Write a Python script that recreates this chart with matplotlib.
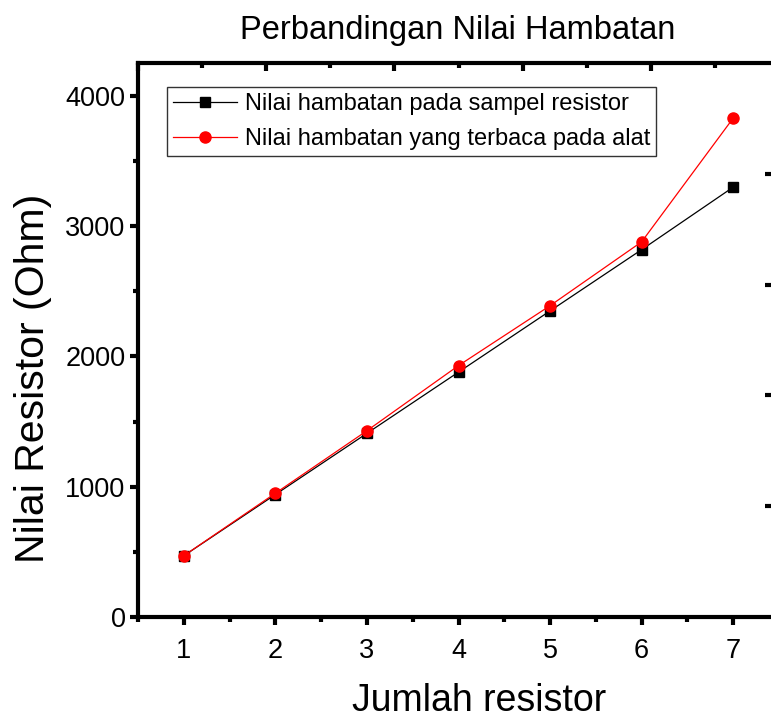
import matplotlib
matplotlib.use('Agg')
import matplotlib.pyplot as plt
from matplotlib.ticker import MultipleLocator

jumlah = [1, 2, 3, 4, 5, 6, 7]
hambatan_sampel = [470, 940, 1410, 1880, 2350, 2820, 3300]
hambatan_alat = [470, 950, 1430, 1930, 2390, 2880, 3830]

label_sampel = 'Nilai hambatan pada sampel resistor'
label_alat = 'Nilai hambatan yang terbaca pada alat'


def main():
    plt.rcParams['font.family'] = ['Liberation Sans', 'DejaVu Sans']

    fig = plt.figure(figsize=(7.71, 7.22), dpi=100)
    ax = fig.add_axes([138 / 771, 1 - 617 / 722, 641 / 771, 554 / 722])

    ax.plot(jumlah, hambatan_sampel, color='black', lw=0.9, marker='s',
            markersize=7, label=label_sampel, clip_on=False, zorder=3)
    ax.plot(jumlah, hambatan_alat, color='red', lw=0.9, marker='o',
            markersize=8, label=label_alat, clip_on=False, zorder=4)

    ax.set_xlim(0.5, 7.5)
    ax.set_ylim(0, 4253)
    ax.xaxis.set_major_locator(MultipleLocator(1))
    ax.xaxis.set_minor_locator(MultipleLocator(0.5))
    ax.yaxis.set_major_locator(MultipleLocator(1000))
    ax.yaxis.set_minor_locator(MultipleLocator(500))

    for s in ax.spines.values():
        s.set_linewidth(3)
    ax.spines['right'].set_visible(False)

    ax.tick_params(which='major', direction='out', length=6, width=3,
                   labelsize=19.5, top=False, right=False)
    ax.tick_params(axis='x', which='major', pad=9)
    ax.tick_params(axis='y', which='major', pad=3)
    ax.tick_params(which='minor', direction='out', length=3.5, width=3,
                   top=False, right=False)

    # extra Origin layer ticks on top and right
    ax_top = ax.twiny()
    ax_top.set_xlim(0, 10)
    ax_top.xaxis.set_major_locator(MultipleLocator(2))
    ax_top.xaxis.set_minor_locator(MultipleLocator(1))
    ax_top.tick_params(which='major', direction='in', length=6, width=3,
                       labeltop=False)
    ax_top.tick_params(which='minor', direction='in', length=3.5, width=3)
    for s in ax_top.spines.values():
        s.set_visible(False)

    ax_right = ax.twinx()
    ax_right.set_ylim(0, 5)
    ax_right.set_yticks([1, 2, 3, 4])
    ax_right.tick_params(direction='in', length=10, width=3, labelright=False)
    for s in ax_right.spines.values():
        s.set_visible(False)

    ax.set_xlabel('Jumlah resistor', fontsize=27)
    ax.xaxis.set_label_coords(0.532, -0.119)
    ax.set_ylabel('Nilai Resistor (Ohm)', fontsize=29.5)
    ax.yaxis.set_label_coords(-0.134, 0.431)
    fig.text(458 / 771, 1 - 31 / 722, 'Perbandingan Nilai Hambatan',
             fontsize=23.5, ha='center', va='center')

    leg = ax.legend(loc='upper left', bbox_to_anchor=(29 / 641, 1 - 24 / 554),
                    fontsize=17, frameon=True, fancybox=False,
                    edgecolor='black', handlelength=2.7, borderpad=0.25,
                    labelspacing=0.55, handletextpad=0.35, borderaxespad=0)
    leg.get_frame().set_linewidth(1)
    leg.set_zorder(10)

    fig.savefig('out.png', dpi=100)


if __name__ == "__main__":
    main()
